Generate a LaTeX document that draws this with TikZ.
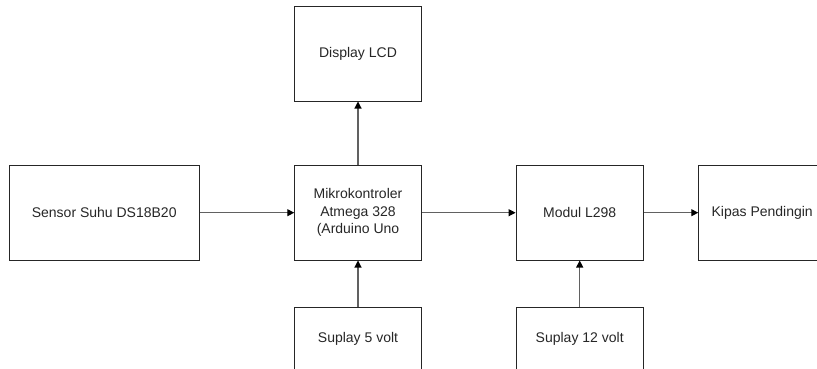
\documentclass[tikz,border=0pt]{standalone}
\usepackage{fontspec}
\setmainfont{Liberation Sans}
\usetikzlibrary{arrows.meta}
\tikzset{
  blockbox/.style={draw=black!85, line width=0.9pt, inner sep=0pt, align=center,
    font=\fontsize{14}{17.5}\selectfont, text=black!85},
  conn/.style={draw=black!62, line width=1.1pt, -{Triangle[length=7pt,width=7pt,color=black]}}
}
\begin{document}
\begin{tikzpicture}[x=1pt,y=-1pt]
\useasboundingbox (0,0) rectangle (817,369);
\clip (0,0) rectangle (817,369);
\node[blockbox, minimum width=126.6pt, minimum height=94.3pt] (lcd) at (358,53.9) {Display LCD};
\node[blockbox, minimum width=126.6pt, minimum height=94.7pt] (mcu) at (358,212.7) {Mikrokontroler\\Atmega 328\\(Arduino Uno};
\node[blockbox, minimum width=190.3pt, minimum height=94.7pt] (sensor) at (104.2,212.7) {Sensor Suhu DS18B20};
\node[blockbox, minimum width=127.3pt, minimum height=94.7pt] (modul) at (579.7,212.7) {Modul L298};
\node[blockbox, minimum width=127pt, minimum height=94.7pt] (kipas) at (762.2,212.7) {Kipas Pendingin};
\node[blockbox, minimum width=126.6pt, minimum height=63.3pt] (s5) at (358,339.3) {Suplay 5 volt};
\node[blockbox, minimum width=127.3pt, minimum height=63.3pt] (s12) at (579.7,339.3) {Suplay 12 volt};
\draw[conn] (sensor) -- (mcu);
\draw[conn] (mcu) -- (lcd);
\draw[conn] (mcu) -- (modul);
\draw[conn] (modul) -- (kipas);
\draw[conn] (s5) -- (mcu);
\draw[conn] (s12) -- (modul);
\end{tikzpicture}
\end{document}
